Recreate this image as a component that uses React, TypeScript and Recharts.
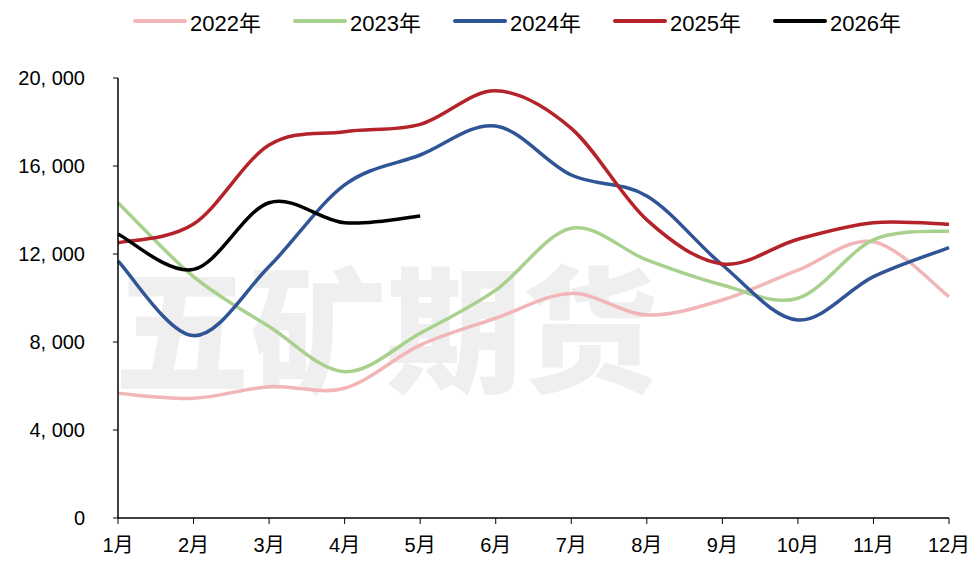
import { LineChart, Line, XAxis, YAxis } from "recharts";

const months = ["1月", "2月", "3月", "4月", "5月", "6月", "7月", "8月", "9月", "10月", "11月", "12月"];

const y2022 = [5670, 5440, 5970, 5900, 7860, 9080, 10210, 9230, 9910, 11270, 12560, 10060];
const y2023 = [14330, 10970, 8700, 6650, 8400, 10360, 13170, 11730, 10590, 9990, 12640, 13050];
const y2024 = [11680, 8290, 11430, 15140, 16500, 17820, 15590, 14640, 11500, 9000, 10970, 12290];
const y2025 = [12510, 13360, 16950, 17560, 17890, 19420, 17710, 13550, 11550, 12670, 13420, 13350];
const y2026 = [12910, 11300, 14330, 13420, 13730];

const yTicks = [0, 4000, 8000, 12000, 16000, 20000];

const series = [
  { key: "y2022", name: "2022年", color: "#f2b6b9", values: y2022 },
  { key: "y2023", name: "2023年", color: "#a9d18e", values: y2023 },
  { key: "y2024", name: "2024年", color: "#2f5597", values: y2024 },
  { key: "y2025", name: "2025年", color: "#b5232a", values: y2025 },
  { key: "y2026", name: "2026年", color: "#000000", values: y2026 },
];

const data = months.map((m, i) => {
  const row: Record<string, string | number | null> = { month: m };
  series.forEach(s => {
    row[s.key] = i < s.values.length ? s.values[i] : null;
  });
  return row;
});

// Excel-like smoothed line (Catmull-Rom through the points)
const smooth = (context: any) => {
  let pts: number[][] = [];
  return {
    areaStart() {},
    areaEnd() {},
    lineStart() {
      pts = [];
    },
    point(x: number, y: number) {
      pts.push([+x, +y]);
    },
    lineEnd() {
      const n = pts.length;
      if (!n) return;
      context.moveTo(pts[0][0], pts[0][1]);
      for (let i = 0; i < n - 1; i++) {
        const p0 = pts[Math.max(i - 1, 0)];
        const p1 = pts[i];
        const p2 = pts[i + 1];
        const p3 = pts[Math.min(i + 2, n - 1)];
        context.bezierCurveTo(
          p1[0] + (p2[0] - p0[0]) / 6,
          p1[1] + (p2[1] - p0[1]) / 6,
          p2[0] - (p3[0] - p1[0]) / 6,
          p2[1] - (p3[1] - p1[1]) / 6,
          p2[0],
          p2[1]
        );
      }
    },
  };
};

const font = "'Liberation Sans', Arial, 'Noto Sans CJK SC', sans-serif";

export default function App() {
  return (
    <div style={{ position: "fixed", left: 0, top: 0, width: 975, height: 562, background: "#fff", fontFamily: font }}>
      <div
        style={{
          position: "absolute",
          left: 114,
          top: 238,
          fontFamily: "'Noto Sans CJK SC', sans-serif",
          fontWeight: 900,
          fontSize: 136,
          lineHeight: "170px",
          color: "#efefef",
          letterSpacing: 0,
          whiteSpace: "nowrap",
        }}
      >
        五矿期货
      </div>
      <div style={{ position: "absolute", left: 133, top: 8, display: "flex", height: 26, alignItems: "center" }}>
        {series.map(s => (
          <div key={s.key} style={{ display: "flex", alignItems: "center", width: 160 }}>
            <div style={{ width: 54, height: 4, background: s.color, borderRadius: 2 }} />
            <span style={{ marginLeft: 3, fontSize: 22, color: "#000" }}>{s.name}</span>
          </div>
        ))}
      </div>
      <div style={{ position: "absolute", left: 0, top: 0 }}>
        <LineChart width={975} height={562} data={data} margin={{ top: 78, right: 26, left: 0, bottom: 0 }}>
          <XAxis
            dataKey="month"
            height={44}
            tickSize={6}
            tickMargin={14}
            interval={0}
            stroke="#000"
            tickLine={{ stroke: "#000" }}
            axisLine={{ stroke: "#000", strokeWidth: 1.5 }}
            tick={{ fill: "#000", fontSize: 20, fontFamily: font }}
          />
          <YAxis
            width={118}
            domain={[0, 20000]}
            ticks={yTicks}
            interval={0}
            tickSize={5}
            tickMargin={28}
            stroke="#000"
            axisLine={{ stroke: "#000", strokeWidth: 1.5 }}
            tick={{ fill: "#000", fontSize: 20, fontFamily: font }}
            tickFormatter={(v: number) => v.toLocaleString("en-US").replace(",", ", ")}
          />
          {series.map(s => (
            <Line
              key={s.key}
              dataKey={s.key}
              name={s.name}
              type={smooth as any}
              stroke={s.color}
              strokeWidth={3.5}
              dot={false}
              activeDot={false}
              isAnimationActive={false}
            />
          ))}
        </LineChart>
      </div>
    </div>
  );
}
